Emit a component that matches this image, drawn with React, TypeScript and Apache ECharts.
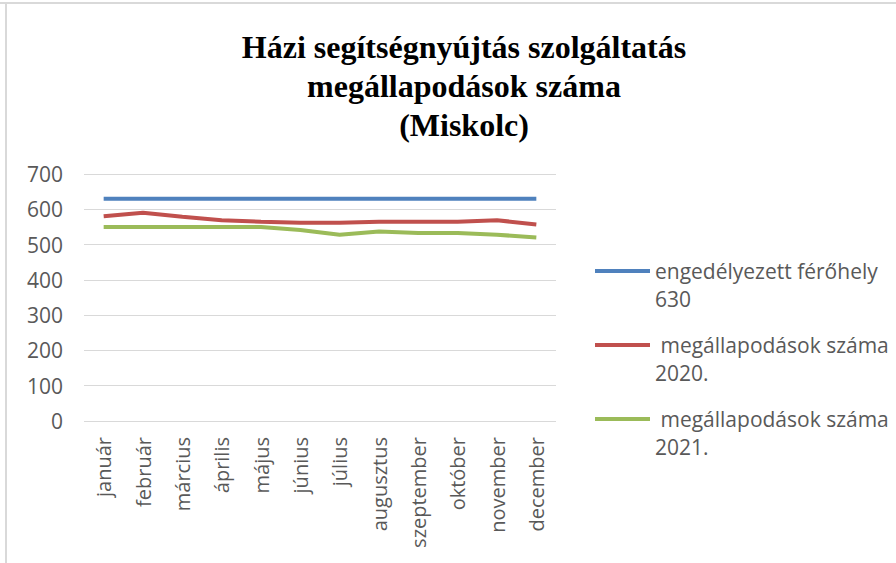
import React, { useEffect, useRef } from "react";
import * as echarts from "echarts";

const titleText = "Házi segítségnyújtás szolgáltatás\nmegállapodások száma\n(Miskolc)";
const months = ["január", "február", "március", "április", "május", "június", "július", "augusztus", "szeptember", "október", "november", "december"];
const seriesNames = ["engedélyezett férőhely\n630", " megállapodások száma\n2020.", " megállapodások száma\n2021."];
const capacity = [630, 630, 630, 630, 630, 630, 630, 630, 630, 630, 630, 630];
const agreements2020 = [580, 590, 579, 569, 565, 562, 562, 565, 565, 565, 569, 557];
const agreements2021 = [550, 550, 550, 550, 550, 541, 528, 537, 533, 533, 528, 520];
const colors = ["#4f81bd", "#c0504d", "#9bbb59"];
const yMin = 0;
const yMax = 700;
const yStep = 100;

export default function App() {
  const ref = useRef<HTMLDivElement>(null);
  useEffect(() => {
    if (!ref.current) return;
    const chart = echarts.init(ref.current, undefined, { renderer: "svg" });
    const datasets = [capacity, agreements2020, agreements2021];
    chart.setOption({
      animation: false,
      backgroundColor: "#ffffff",
      color: colors,
      title: {
        text: titleText,
        left: 459,
        top: 22,
        textAlign: "center",
        textStyle: {
          fontFamily: "Liberation Serif",
          fontWeight: "bold",
          fontSize: 32,
          lineHeight: 39,
          color: "#000000",
        },
      },
      graphic: [
        { type: "line", shape: { x1: 0, y1: 3, x2: 896, y2: 3 }, style: { stroke: "#d9d9d9", lineWidth: 2 } },
        { type: "line", shape: { x1: 6, y1: 3, x2: 6, y2: 563 }, style: { stroke: "#d9d9d9", lineWidth: 2 } },
      ],
      legend: {
        orient: "vertical",
        left: 590,
        top: 224,
        itemWidth: 55,
        itemHeight: 4,
        itemGap: -10,
        icon: "rect",
        data: seriesNames,
        formatter: (name: string) => "\n" + name,
        textStyle: {
          fontFamily: "Open Sans",
          fontSize: 21,
          lineHeight: 28,
          color: "#595959",
        },
      },
      grid: { left: 84, right: 340, top: 174, bottom: 142 },
      xAxis: {
        type: "category",
        data: months,
        boundaryGap: true,
        axisLine: { show: false },
        axisTick: { show: false },
        axisLabel: {
          rotate: 90,
          interval: 0,
          margin: 16,
          fontFamily: "Open Sans",
          fontSize: 20,
          color: "#595959",
        },
      },
      yAxis: {
        type: "value",
        min: yMin,
        max: yMax,
        interval: yStep,
        axisLine: { show: false },
        axisTick: { show: false },
        splitLine: { lineStyle: { color: "#d9d9d9", width: 1 } },
        axisLabel: {
          margin: 21,
          fontFamily: "Open Sans",
          fontSize: 21,
          color: "#595959",
        },
      },
      series: seriesNames.map((name, i) => ({
        name,
        type: "line",
        data: datasets[i],
        showSymbol: false,
        symbol: "none",
        lineStyle: { width: 4, color: colors[i] },
        itemStyle: { color: colors[i] },
      })),
    });
    return () => chart.dispose();
  }, []);
  return (
    <div
      ref={ref}
      style={{ position: "fixed", left: 0, top: 0, width: 896, height: 563 }}
    />
  );
}
